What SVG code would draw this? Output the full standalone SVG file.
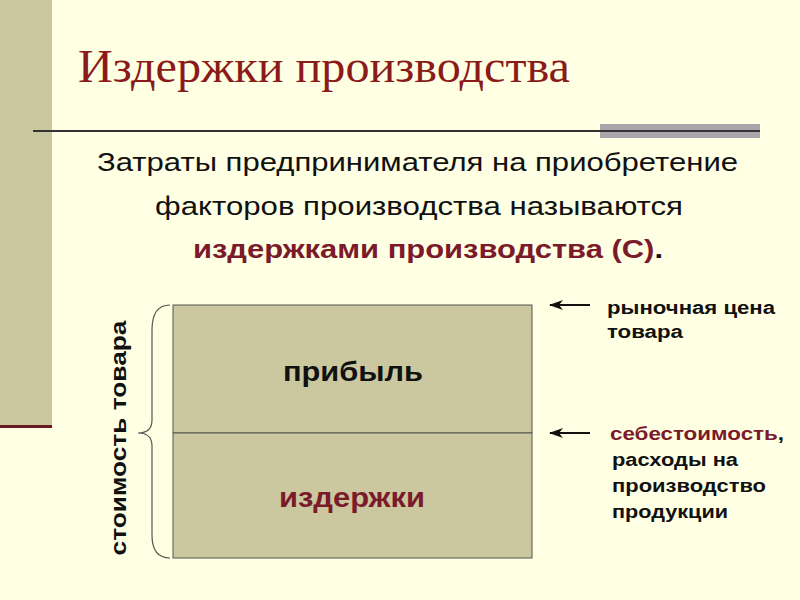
<svg xmlns="http://www.w3.org/2000/svg" width="800" height="600" viewBox="0 0 800 600">
<style>
.t{font-family:"Liberation Sans",Arial,sans-serif;font-size:26px;fill:#111}
.b{font-family:"Liberation Sans",Arial,sans-serif;font-weight:bold;fill:#111}
.r{fill:#7a1a2a}
.box{fill:#cbc79e;stroke:#555;stroke-width:1}
</style>
<defs><marker id="a" markerWidth="14" markerHeight="10" refX="13" refY="5" orient="auto" markerUnits="userSpaceOnUse"><path d="M0,0 L14,5 L0,10 L4,5 Z" fill="#111"/></marker></defs>
<rect width="800" height="600" fill="#ffffe3"/>
<rect x="0" y="0" width="52" height="425" fill="#cbc79e"/>
<rect x="0" y="425" width="52" height="3" fill="#6b1a24"/>
<text x="78" y="82" font-family="Liberation Serif,serif" font-size="47" fill="#8b1a1a" textLength="492" lengthAdjust="spacingAndGlyphs">Издержки производства</text>
<rect x="600" y="124" width="160" height="14" fill="#a9a5ab"/>
<line x1="33" y1="131" x2="760" y2="131" stroke="#333" stroke-width="2"/>
<text class="t" x="97" y="171" textLength="641" lengthAdjust="spacingAndGlyphs">Затраты предпринимателя на приобретение</text>
<text class="t" x="155" y="215" textLength="528" lengthAdjust="spacingAndGlyphs">факторов производства называются</text>
<text class="b" x="193" y="258" font-size="25" textLength="470" lengthAdjust="spacingAndGlyphs"><tspan class="r">издержками производства (С)</tspan>.</text>
<g id="profit"><rect class="box" x="173" y="305" width="359" height="128"/><text class="b" x="283" y="381" font-size="27" textLength="140" lengthAdjust="spacingAndGlyphs">прибыль</text></g>
<g id="costs"><rect class="box" x="173" y="433" width="359" height="125"/><text class="b r" x="279" y="507" font-size="27" textLength="146" lengthAdjust="spacingAndGlyphs">издержки</text></g>
<g id="connectors" fill="none" stroke="#111" stroke-width="2">
<line x1="590" y1="305" x2="550" y2="305" marker-end="url(#a)"/>
<line x1="590" y1="433" x2="550" y2="433" marker-end="url(#a)"/>
<path d="M170,305 Q152,305 152,330 L152,420 Q152,433 138,433 Q152,433 152,446 L152,535 Q152,558 170,558" stroke-width="1.2" stroke="#555"/>
</g>
<text class="b" transform="translate(126,438) rotate(-90)" text-anchor="middle" font-size="22" textLength="235" lengthAdjust="spacingAndGlyphs">стоимость товара</text>
<text class="b" x="607" y="314" font-size="18" textLength="168" lengthAdjust="spacingAndGlyphs">рыночная цена</text>
<text class="b" x="607" y="338" font-size="18" textLength="76" lengthAdjust="spacingAndGlyphs">товара</text>
<text class="b" x="610" y="440" font-size="18" textLength="174" lengthAdjust="spacingAndGlyphs"><tspan class="r">себестоимость</tspan>,</text>
<text class="b" x="612" y="466" font-size="18" textLength="126" lengthAdjust="spacingAndGlyphs">расходы на</text>
<text class="b" x="612" y="492" font-size="18" textLength="154" lengthAdjust="spacingAndGlyphs">производство</text>
<text class="b" x="612" y="518" font-size="18" textLength="116" lengthAdjust="spacingAndGlyphs">продукции</text>
</svg>
